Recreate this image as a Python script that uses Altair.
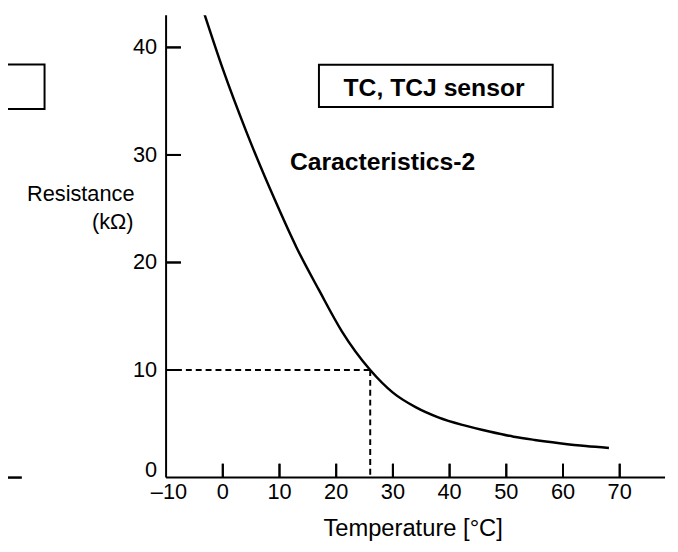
import altair as alt
import pandas as pd

# Curve (temperature in °C, resistance in kΩ)
temps = [-3.3, 0.0, 4.2, 9.2, 13.0, 17.0, 21.0, 26.0, 30.0, 34.0, 38.0, 42.6, 47.0, 51.3, 55.0, 59.4, 64.0, 68.1]
resist = [43.2, 38.0, 32.1, 25.8, 21.4, 17.4, 13.6, 10.0, 7.9, 6.55, 5.6, 4.85, 4.28, 3.8, 3.5, 3.2, 2.93, 2.75]

x_tick_labels = [-10, 0, 10, 20, 30, 40, 50, 60, 70]
x_tick_marks = [0, 10, 20, 30, 40, 50, 60, 70]
y_tick_labels = [10, 20, 30, 40]
y_zero_label = [0]
y_tick_marks = [10, 20, 30, 40]

ref_temp = [26]
ref_res = [10]

FONT = "Liberation Sans"
W, H = 505, 468
X_MIN, X_MAX = -10, 78
Y_MIN, Y_MAX = 0, 43

xs = alt.Scale(domain=[X_MIN, X_MAX], nice=False, zero=False)
ys = alt.Scale(domain=[Y_MIN, Y_MAX], nice=False, zero=False)

# inward tick lengths (pixels) expressed in data units
XT_LEN = 14.0 * (Y_MAX - Y_MIN) / H
YT_LEN = 15.0 * (X_MAX - X_MIN) / W


def X(f):
    return alt.X(f, scale=xs, axis=None)


def Y(f):
    return alt.Y(f, scale=ys, axis=None)


curve = alt.Chart(pd.DataFrame({"T": temps, "R": resist})).mark_line(
    color="black", strokeWidth=2.5, interpolate="monotone", clip=True
).encode(x=X("T:Q"), y=Y("R:Q"))

# axis lines and inward ticks as one table of segments built from the lists
seg_rows = [
    {"sx1": float(X_MIN), "sx2": float(X_MAX), "sy1": float(Y_MIN), "sy2": float(Y_MIN), "k": "xaxis"},
    {"sx1": float(X_MIN), "sx2": float(X_MIN), "sy1": float(Y_MIN), "sy2": float(Y_MAX), "k": "yaxis"},
]
seg_rows += [
    {"sx1": float(v), "sx2": float(v), "sy1": float(Y_MIN), "sy2": Y_MIN + XT_LEN, "k": f"xt{v}"}
    for v in x_tick_marks
]
seg_rows += [
    {"sx1": float(X_MIN), "sx2": X_MIN + YT_LEN, "sy1": float(v), "sy2": float(v), "k": f"yt{v}"}
    for v in y_tick_marks
]
seg_df = pd.DataFrame(seg_rows)
segments = alt.Chart(seg_df).mark_rule(color="black", strokeWidth=2).encode(
    x=X("sx1:Q"), x2="sx2:Q", y=Y("sy1:Q"), y2="sy2:Q", detail="k:N"
)

# inward ticks again as tick marks (vertical on the x axis, horizontal on the y axis)
xt2 = alt.Chart(pd.DataFrame({"xv": x_tick_marks})).transform_calculate(
    yc=f"{Y_MIN + XT_LEN / 2}"
).mark_tick(color="black", thickness=2, size=14, orient="vertical", opacity=1).encode(
    x=X("xv:Q"), y=Y("yc:Q")
)
yt2 = alt.Chart(pd.DataFrame({"yv": y_tick_marks})).transform_calculate(
    xc=f"{X_MIN + YT_LEN / 2}"
).mark_tick(color="black", thickness=2, size=15, orient="horizontal", opacity=1).encode(
    x=X("xc:Q"), y=Y("yv:Q")
)

# tick labels
xl = alt.Chart(pd.DataFrame({"xv": x_tick_labels})).transform_calculate(
    ya=f"{Y_MIN}",
    xp="datum.xv < 0 ? datum.xv + 0.5 : datum.xv",
    lab="datum.xv < 0 ? '\u2013' + abs(datum.xv) : '' + datum.xv",
).mark_text(
    font=FONT, fontSize=22, color="black", align="center", baseline="top", dy=5
).encode(x=X("xp:Q"), y=Y("ya:Q"), text="lab:N")

yl = alt.Chart(pd.DataFrame({"yv": y_tick_labels})).transform_calculate(
    xa=f"{X_MIN}", lab="'' + datum.yv"
).mark_text(
    font=FONT, fontSize=22, color="black", align="right", baseline="middle", dx=-9
).encode(x=X("xa:Q"), y=Y("yv:Q"), text="lab:N")

yl0 = alt.Chart(pd.DataFrame({"yv": y_zero_label})).transform_calculate(
    xa=f"{X_MIN}", lab="'' + datum.yv"
).mark_text(
    font=FONT, fontSize=22, color="black", align="right", baseline="alphabetic", dx=-9, dy=-1
).encode(x=X("xa:Q"), y=Y("yv:Q"), text="lab:N")

# dashed reference lines at 26 °C / 10 kΩ
ref_df = pd.DataFrame({"T": ref_temp, "R": ref_res})
hdash = alt.Chart(ref_df).transform_calculate(x0=f"{X_MIN}").mark_rule(
    color="black", strokeWidth=2, strokeDash=[6, 4]
).encode(x=X("x0:Q"), x2="T:Q", y=Y("R:Q"))
vdash = alt.Chart(ref_df).transform_calculate(y0=f"{Y_MIN}").mark_rule(
    color="black", strokeWidth=2, strokeDash=[6, 4]
).encode(x=X("T:Q"), y=Y("R:Q"), y2="y0:Q")

one = pd.DataFrame({"a": [0]})

box = alt.Chart(one).mark_rect(
    fill="white", stroke="black", strokeWidth=2
).encode(x=alt.value(154.7), x2=alt.value(391.3), y=alt.value(50.3), y2=alt.value(93))

box_text = alt.Chart(one).mark_text(
    text="TC, TCJ sensor", font=FONT, fontSize=25, fontWeight="bold",
    align="center", baseline="alphabetic", color="black"
).encode(x=alt.value(271.2), y=alt.value(82.3))

carac = alt.Chart(one).mark_text(
    text="Caracteristics-2", font=FONT, fontSize=25, fontWeight="bold",
    align="left", baseline="alphabetic", color="black"
).encode(x=alt.value(125.3), y=alt.value(156.3))

res1 = alt.Chart(one).mark_text(
    text="Resistance", font=FONT, fontSize=22, align="right",
    baseline="alphabetic", color="black"
).encode(x=alt.value(-32), y=alt.value(188))

res2 = alt.Chart(one).mark_text(
    text="(k\u03a9)", font=FONT, fontSize=22, align="right",
    baseline="alphabetic", color="black"
).encode(x=alt.value(-33), y=alt.value(216))

xtitle = alt.Chart(one).mark_text(
    text="Temperature [\u00b0C]", font=FONT, fontSize=24, align="center",
    baseline="alphabetic", color="black"
).encode(x=alt.value(250), y=alt.value(527.3))

# fragments of the neighbouring panel visible at the left edge
left_box = alt.Chart(one).mark_rect(
    fill="white", stroke="black", strokeWidth=2
).encode(x=alt.value(-230), x2=alt.value(-123), y=alt.value(50), y2=alt.value(95))
left_axis = alt.Chart(one).mark_rule(color="black", strokeWidth=2.5).encode(
    x=alt.value(-175), x2=alt.value(-146), y=alt.value(H)
)

chart = alt.layer(
    curve, segments, xt2, yt2, xl, yl, yl0, hdash, vdash,
    box, box_text, carac, res1, res2, xtitle, left_box, left_axis,
).properties(
    width=W, height=H,
    autosize=alt.AutoSizeParams(type="none"),
    padding={"left": 160, "top": 4, "right": 5, "bottom": 64},
).configure(background="white").configure_view(stroke="transparent", strokeWidth=0)

chart.save("out.html", embed_options={"renderer": "svg", "actions": False})
